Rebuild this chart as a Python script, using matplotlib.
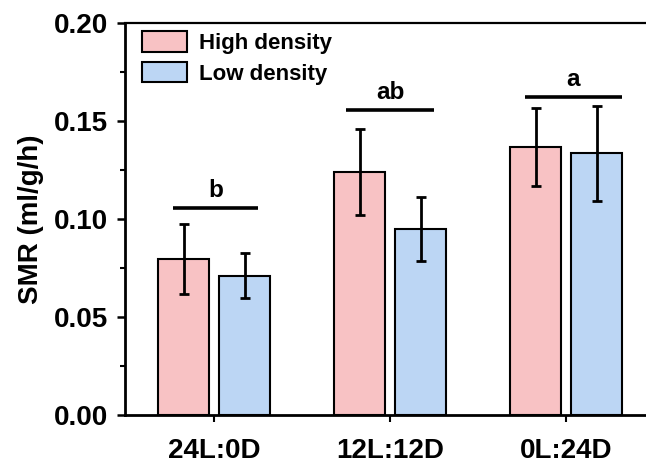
import matplotlib
matplotlib.use("Agg")
import matplotlib.pyplot as plt
import numpy as np
from matplotlib.ticker import MultipleLocator

# photoperiod groups
groups = ["24L:0D", "12L:12D", "0L:24D"]
high_mean = [0.0797, 0.1239, 0.1368]
high_err = [0.0176, 0.0220, 0.0200]
low_mean = [0.0711, 0.0948, 0.1334]
low_err = [0.0114, 0.0163, 0.0240]

# significance letters, bar height and line extent (relative to group centre)
sig_letters = ["b", "ab", "a"]
sig_height = [0.1059, 0.1556, 0.1624]
sig_left = [-0.234, -0.25, -0.237]
sig_right = [0.246, 0.25, 0.316]

plt.rcParams["font.family"] = ["Liberation Sans", "DejaVu Sans"]
plt.rcParams["font.weight"] = "bold"

fig = plt.figure(figsize=(6.46, 4.68), dpi=100)
ax = fig.add_axes([0.1935, 0.1122, 0.8065, 0.8393])

x = np.arange(len(groups))
width = 0.29
offset = 0.173
err_kw = dict(ecolor="black", elinewidth=2.0, capsize=3.6, capthick=2.0)

ax.bar(x - offset, high_mean, width, yerr=high_err, color="#F8C2C4",
       edgecolor="black", linewidth=1.5, label="High density", error_kw=err_kw)
ax.bar(x + offset, low_mean, width, yerr=low_err, color="#BCD6F4",
       edgecolor="black", linewidth=1.5, label="Low density", error_kw=err_kw)

for i, (letter, h) in enumerate(zip(sig_letters, sig_height)):
    x0, x1 = i + sig_left[i], i + sig_right[i]
    ax.plot([x0, x1], [h, h], color="black", linewidth=2.6, solid_capstyle="butt")
    ax.text((x0 + x1) / 2, h + 0.003, letter, ha="center", va="bottom",
            fontsize=17.5, fontweight="bold")

ax.set_xlim(-0.507, 2.453)
ax.set_ylim(0, 0.20)
ax.set_xticks(x)
ax.set_xticklabels(groups)
ax.yaxis.set_major_locator(MultipleLocator(0.05))
ax.yaxis.set_minor_locator(MultipleLocator(0.025))
ax.yaxis.set_major_formatter(matplotlib.ticker.FormatStrFormatter("%.2f"))

ax.tick_params(axis="y", which="major", direction="out", length=6, width=1.8,
               labelsize=20, pad=6)
ax.tick_params(axis="y", which="minor", direction="out", length=3.5, width=1.5)
ax.tick_params(axis="x", direction="out", length=5, width=1.5, labelsize=20, pad=11)
for lbl in ax.get_xticklabels() + ax.get_yticklabels():
    lbl.set_fontweight("bold")

ax.spines["right"].set_visible(False)
ax.spines["left"].set_linewidth(2.0)
ax.spines["bottom"].set_linewidth(2.0)
ax.spines["top"].set_linewidth(1.6)

ax.set_ylabel("SMR (ml/g/h)", fontsize=20, fontweight="bold", labelpad=7)

ax.legend(loc="upper left", frameon=False, fontsize=16, handlelength=2.05,
          handleheight=1.05, handletextpad=0.55, labelspacing=0.35,
          borderaxespad=0.3, bbox_to_anchor=(0.002, 1.018))

fig.savefig("out.png", dpi=100)
